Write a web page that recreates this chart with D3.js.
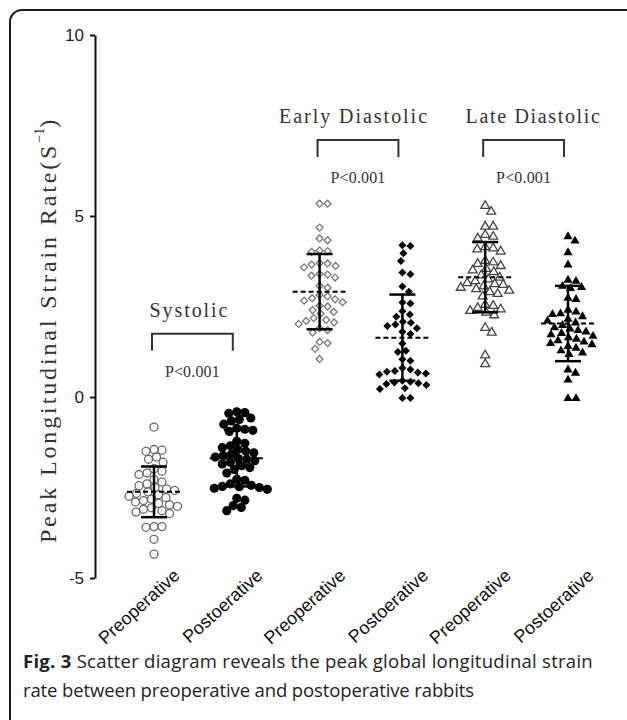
<!DOCTYPE html>
<html>
<head>
<meta charset="utf-8">
<script src="https://cdn.jsdelivr.net/npm/d3@7"></script>
<style>
  body { margin: 0; background: #fff; }
  svg { display: block; }
</style>
</head>
<body>
<svg id="chart" width="627" height="720"></svg>
<script>
// ---- data ----
const categories = ['Preoperative', 'Postoerative', 'Preoperative', 'Postoerative', 'Preoperative', 'Postoerative'];
const phases = ['Systolic', 'Early Diastolic', 'Late Diastolic'];
const pLabels = ['P<0.001', 'P<0.001', 'P<0.001'];
const bracketLevels = [1.75, 7.1, 7.1];   // data units, top of each bracket
const yTicks = [-5, 0, 5, 10];

const sysPre = [-0.83, -1.45, -1.47, -1.50, -1.66, -1.72, -1.80, -1.98, -2.05, -2.10, -2.14, -2.28, -2.35, -2.40,
  -2.45, -2.50, -2.54, -2.58, -2.62, -2.66, -2.70, -2.74, -2.78, -2.82, -2.86, -2.90, -2.94, -2.98, -3.02, -3.06,
  -3.10, -3.14, -3.18, -3.22, -3.58, -3.58, -3.60, -3.93, -4.34];
const sysPost = [-0.41, -0.43, -0.45, -0.58, -0.62, -0.66, -0.75, -0.86, -0.89, -0.92, -0.95, -1.22, -1.28, -1.35,
  -1.40, -1.45, -1.50, -1.54, -1.58, -1.62, -1.66, -1.70, -1.72, -1.76, -1.80, -1.85, -1.90, -1.95, -2.00, -2.10,
  -2.27, -2.30, -2.40, -2.44, -2.47, -2.50, -2.52, -2.55, -2.48, -2.80, -2.85, -3.00, -3.05, -3.14];
const earlyPre = [5.34, 5.34, 4.68, 4.38, 4.33, 4.05, 4.01, 4.03, 3.70, 3.69, 3.62, 3.58, 3.66, 3.40, 3.35, 3.30,
  3.38, 3.07, 3.02, 2.78, 2.73, 2.70, 2.66, 2.62, 2.82, 2.50, 2.40, 2.35, 2.30, 2.52, 2.18, 2.13, 2.10, 2.06, 2.02,
  1.90, 1.78, 1.85, 1.49, 1.52, 1.33, 1.05];
const earlyPost = [4.17, 4.19, 3.97, 3.76, 3.39, 3.44, 3.05, 2.91, 2.61, 2.58, 2.37, 2.28, 2.22, 1.96, 2.05, 1.90,
  2.00, 2.08, 1.80, 1.74, 1.48, 1.24, 1.28, 1.00, 1.04, 0.76, 0.72, 0.68, 0.65, 0.62, 0.70, 0.80, 0.45, 0.42, 0.38,
  0.40, 0.33, 0.36, 0.24, 0.22, -0.03, -0.03];
const latePre = [5.28, 5.12, 4.71, 4.71, 4.48, 4.38, 4.43, 4.14, 4.02, 4.11, 4.08, 3.76, 3.68, 3.62, 3.54, 3.50,
  3.72, 3.45, 3.36, 3.30, 3.25, 3.20, 3.15, 3.10, 3.06, 3.02, 2.98, 2.94, 2.90, 3.12, 2.85, 2.78, 2.46, 2.42,
  2.52, 2.55, 2.38, 2.26, 2.33, 1.91, 1.78, 1.15, 0.91];
const latePost = [4.43, 4.31, 3.99, 3.65, 3.23, 3.20, 3.03, 3.00, 3.06, 2.73, 2.70, 2.40, 2.35, 2.30, 2.28, 2.22,
  2.15, 2.10, 2.05, 1.98, 1.92, 1.88, 1.84, 1.80, 1.76, 1.72, 1.68, 1.64, 1.60, 1.56, 1.52, 1.48, 1.45, 1.40,
  1.35, 1.28, 1.22, 1.18, 0.75, 0.66, 0.47, -0.04, -0.04];

const means = [-2.62, -1.69, 2.91, 1.64, 3.31, 2.03];
const sds = [0.70, 0.78, 1.04, 1.19, 0.97, 1.04];

const groupValues = [sysPre, sysPost, earlyPre, earlyPost, latePre, latePost];

// ---- layout ----
const svg = d3.select('#chart');
const serif = '"Liberation Serif", "DejaVu Serif", serif';
const sans = '"Liberation Sans", Arial, sans-serif';

const y = d3.scaleLinear().domain([-5, 10]).range([578, 35]);
const x = d3.scalePoint().domain(d3.range(categories.length)).range([154, 568]);

// spread letters so proportional text fills the width of the original lettering
function fitSpacing(sel, target) {
  const node = sel.node();
  const w = node.getComputedTextLength();
  const n = node.textContent.length;
  sel.attr('letter-spacing', (target - w) / n);
}

// frame
svg.append('rect')
  .attr('x', 10).attr('y', 10)
  .attr('width', 628).attr('height', 730)
  .attr('rx', 12)
  .attr('fill', 'none')
  .attr('stroke', '#1a1a1a')
  .attr('stroke-width', 2);

// y axis
const yAxis = svg.append('g')
  .attr('transform', 'translate(95,0)')
  .call(d3.axisLeft(y)
    .tickValues(yTicks)
    .tickFormat(d => String(d))
    .tickSize(5).tickSizeOuter(0).tickPadding(6));
yAxis.select('.domain').attr('stroke', '#111').attr('stroke-width', 2);
yAxis.selectAll('.tick line').attr('stroke', '#111').attr('stroke-width', 2);
yAxis.selectAll('.tick text')
  .attr('font-family', sans)
  .attr('font-size', 17)
  .attr('fill', '#222');

// y axis title
const yTitle = svg.append('text')
  .attr('transform', 'translate(48,330) rotate(-90)')
  .attr('text-anchor', 'middle')
  .attr('dominant-baseline', 'central')
  .attr('font-family', serif)
  .attr('font-size', 24)
  .attr('fill', '#333');
yTitle.append('tspan').text('Peak Longitudinal Strain Rate(S');
yTitle.append('tspan').attr('font-size', 14).attr('dy', -9).attr('letter-spacing', 0).text('−1');
yTitle.append('tspan').attr('dy', 9).text(')');
fitSpacing(yTitle, 432);

// markers
const markers = [
  { shape: d3.symbolCircle, size: 50, fill: 'none', stroke: '#6a6a6a', rot: 0 },
  { shape: d3.symbolCircle, size: 66, fill: '#000', stroke: 'none', rot: 0 },
  { shape: d3.symbolSquare, size: 24, fill: 'none', stroke: '#777', rot: 45 },
  { shape: d3.symbolSquare, size: 32, fill: '#000', stroke: 'none', rot: 45 },
  { shape: d3.symbolTriangle, size: 34, fill: 'none', stroke: '#444', rot: 0 },
  { shape: d3.symbolTriangle, size: 36, fill: '#000', stroke: 'none', rot: 0 }
];

// simple beeswarm: put each point as close to the centre line as it can go
function swarm(vals, diam) {
  const placed = [];
  const out = new Array(vals.length);
  const order = d3.range(vals.length).sort((a, b) => vals[b] - vals[a]);
  for (const i of order) {
    const py = y(vals[i]);
    let dx = 0;
    for (let k = 0; k < 400; k++) {
      const off = (k % 2 ? 1 : -1) * Math.ceil(k / 2) * 0.5;
      if (placed.every(p => (p.x - off) ** 2 + (p.y - py) ** 2 >= diam * diam)) { dx = off; break; }
    }
    placed.push({ x: dx, y: py });
    out[i] = dx;
  }
  return out;
}

groupValues.forEach((vals, gi) => {
  const m = markers[gi];
  const offs = swarm(vals, 8);
  svg.append('g')
    .selectAll('path')
    .data(vals)
    .join('path')
    .attr('d', d3.symbol(m.shape, m.size))
    .attr('transform', (d, i) => `translate(${x(gi) + offs[i]},${y(d)}) rotate(${m.rot})`)
    .attr('fill', m.fill)
    .attr('stroke', m.stroke)
    .attr('stroke-width', 1.3);
});

// mean +/- SD bars
const bars = svg.append('g').attr('stroke', '#000');
means.forEach((mu, gi) => {
  const cx = x(gi);
  const top = y(mu + sds[gi]);
  const bot = y(mu - sds[gi]);
  bars.append('line').attr('x1', cx).attr('x2', cx).attr('y1', top).attr('y2', bot).attr('stroke-width', 2.5);
  bars.append('line').attr('x1', cx - 13).attr('x2', cx + 13).attr('y1', top).attr('y2', top).attr('stroke-width', 2.5);
  bars.append('line').attr('x1', cx - 13).attr('x2', cx + 13).attr('y1', bot).attr('y2', bot).attr('stroke-width', 2.5);
  bars.append('line')
    .attr('x1', cx - 27).attr('x2', cx + 27)
    .attr('y1', y(mu)).attr('y2', y(mu))
    .attr('stroke-width', 2)
    .attr('stroke-dasharray', '5,3');
});

// comparison brackets
const titleWidths = [80, 150, 136];
const titleDx = [-3, -4, 10];
phases.forEach((name, pi) => {
  const x1 = x(pi * 2) - 2;
  const x2 = x(pi * 2 + 1) - 4;
  const by = y(bracketLevels[pi]);
  const mid = (x1 + x2) / 2;
  svg.append('path')
    .attr('d', `M${x1},${by + 17}V${by}H${x2}V${by + 17}`)
    .attr('fill', 'none')
    .attr('stroke', '#333')
    .attr('stroke-width', 2);
  const t = svg.append('text')
    .attr('x', mid + titleDx[pi]).attr('y', by - 17)
    .attr('text-anchor', 'middle')
    .attr('font-family', serif)
    .attr('font-size', 20)
    .attr('fill', '#333')
    .text(name);
  fitSpacing(t, titleWidths[pi]);
  const p = svg.append('text')
    .attr('x', mid).attr('y', by + 43)
    .attr('text-anchor', 'middle')
    .attr('font-family', serif)
    .attr('font-size', 16)
    .attr('fill', '#333')
    .text(pLabels[pi]);
  fitSpacing(p, 55);
});

// category labels
svg.append('g')
  .selectAll('text')
  .data(categories)
  .join('text')
  .attr('transform', (d, i) => `translate(${x(i) + 27},577) rotate(-42)`)
  .attr('text-anchor', 'end')
  .attr('font-family', sans)
  .attr('font-size', 18)
  .attr('fill', '#111')
  .text(d => d);

// caption
const cap1 = svg.append('text')
  .attr('x', 23).attr('y', 668)
  .attr('font-family', '"Open Sans", sans-serif')
  .attr('font-size', 18.5)
  .attr('fill', '#222');
cap1.append('tspan').attr('font-weight', 'bold').text('Fig. 3');
cap1.append('tspan').text(' Scatter diagram reveals the peak global longitudinal strain');
fitSpacing(cap1, 570);
const cap2 = svg.append('text')
  .attr('x', 23).attr('y', 697)
  .attr('font-family', '"Open Sans", sans-serif')
  .attr('font-size', 18.5)
  .attr('fill', '#222')
  .text('rate between preoperative and postoperative rabbits');
fitSpacing(cap2, 451);
</script>
</body>
</html>
